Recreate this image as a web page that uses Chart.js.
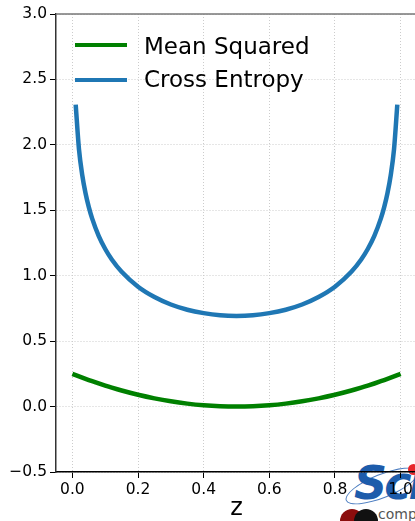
<!DOCTYPE html>
<html>
<head>
<meta charset="utf-8">
<script src="https://cdn.jsdelivr.net/npm/chart.js@4.4.1/dist/chart.umd.min.js"></script>
<style>
  html, body { margin: 0; padding: 0; overflow: hidden; background: #fff; width: 415px; height: 521px; }
  #wrap { position: absolute; left: 0; top: 0; width: 430px; height: 521px; z-index: 2; }
  .leg-line { position: absolute; height: 4px; width: 52px; left: 75px; z-index: 3; }
  .leg-text { position: absolute; left: 144px; font-family: "DejaVu Sans", sans-serif; font-size: 23px; line-height: 28px; color: #000; white-space: nowrap; z-index: 3; }
  #logo-sci { position: absolute; left: 354px; top: 456px; font-family: "DejaVu Sans", sans-serif; font-weight: bold; font-style: italic; font-size: 46px; color: #1d5cab; line-height: 54px; white-space: nowrap; letter-spacing: -3px; z-index: 1; }
  #logo-comp { position: absolute; left: 378px; top: 505px; font-family: "DejaVu Sans", sans-serif; font-size: 14px; color: #555; line-height: 18px; z-index: 1; }
  #swoosh { position: absolute; left: 343px; top: 474px; width: 76px; height: 22px; border: 1.5px solid #4a7cc0; border-radius: 50%; transform: rotate(-22deg); z-index: 1; }
  .dot { position: absolute; border-radius: 50%; z-index: 1; }
</style>
</head>
<body>
<div id="wrap"><canvas id="c" width="430" height="521"></canvas></div>
<div class="leg-line" style="top:43px;background:#008000"></div>
<div class="leg-text" style="top:31.5px">Mean Squared</div>
<div class="leg-line" style="top:78px;background:#1f77b4"></div>
<div class="leg-text" style="top:65px">Cross Entropy</div>
<div class="dot" style="left:340px;top:509px;width:24px;height:24px;background:#8b0d0d"></div>
<div class="dot" style="left:354px;top:509px;width:24px;height:24px;background:#111"></div>
<div id="swoosh"></div>
<div id="logo-sci">Sci</div>
<div class="dot" style="left:408px;top:464px;width:11px;height:11px;background:#e8262b"></div>
<div id="logo-comp">comp</div>
<script>
const zValues = [0, 0.01, 0.02, 0.03, 0.04, 0.05, 0.06, 0.08, 0.10, 0.12, 0.15, 0.20, 0.25, 0.30, 0.35, 0.40, 0.45, 0.50,
                 0.55, 0.60, 0.65, 0.70, 0.75, 0.80, 0.85, 0.88, 0.90, 0.92, 0.94, 0.95, 0.96, 0.97, 0.98, 0.99, 1.0];
const meanSquared = [0.25, 0.2401, 0.2304, 0.2209, 0.2116, 0.2025, 0.1936, 0.1764, 0.16, 0.1444, 0.1225, 0.09, 0.0625, 0.04, 0.0225, 0.01, 0.0025, 0,
                     0.0025, 0.01, 0.0225, 0.04, 0.0625, 0.09, 0.1225, 0.1444, 0.16, 0.1764, 0.1936, 0.2025, 0.2116, 0.2209, 0.2304, 0.2401, 0.25];
const crossEntropy = [null, 2.308, 1.966, 1.769, 1.630, 1.524, 1.438, 1.305, 1.204, 1.124, 1.030, 0.916, 0.837, 0.780, 0.740, 0.714, 0.698, 0.693,
                      0.698, 0.714, 0.740, 0.780, 0.837, 0.916, 1.030, 1.124, 1.204, 1.305, 1.438, 1.524, 1.630, 1.769, 1.966, 2.308, null];
const xTickValues = [0.0, 0.2, 0.4, 0.6, 0.8, 1.0];
const seriesNames = ["Mean Squared", "Cross Entropy"];

const toPts = ys => zValues.map((z, i) => ({x: z, y: ys[i]})).filter(p => p.y !== null);
const fmt = v => Number(v).toFixed(1).replace('-', '\u2212');
const tickFont = {family: "DejaVu Sans", size: 15.5};

const topSpine = {
  id: 'topSpine',
  afterDraw(chart) {
    const {ctx, chartArea} = chart;
    ctx.save();
    ctx.strokeStyle = '#777';
    ctx.lineWidth = 1.5;
    ctx.beginPath();
    ctx.moveTo(chartArea.left, chartArea.top);
    ctx.lineTo(chartArea.right, chartArea.top);
    ctx.stroke();
    ctx.restore();
  }
};

new Chart(document.getElementById('c'), {
  type: 'line',
  data: {
    datasets: [
      {label: seriesNames[0], data: toPts(meanSquared), borderColor: '#008000', borderWidth: 4.5, pointRadius: 0, cubicInterpolationMode: 'monotone', fill: false},
      {label: seriesNames[1], data: toPts(crossEntropy), borderColor: '#1f77b4', borderWidth: 4.5, pointRadius: 0, cubicInterpolationMode: 'monotone', fill: false}
    ]
  },
  options: {
    responsive: false,
    animation: false,
    layout: {padding: {top: 14, right: 13, left: 0, bottom: 0}},
    plugins: {legend: {display: false}, tooltip: {enabled: false}},
    scales: {
      x: {
        type: 'linear', min: -0.05, max: 1.05,
        afterBuildTicks: s => { s.ticks = xTickValues.map(v => ({value: v})); },
        afterFit: s => { s.height = 49; },
        ticks: {callback: v => fmt(v), font: tickFont, color: '#000', padding: 3, maxRotation: 0},
        grid: {color: '#cccccc', lineWidth: 1, tickColor: '#000', tickLength: 6, tickBorderDash: [], tickWidth: 1},
        border: {color: '#000', width: 1.5, dash: [1, 2]},
        title: {display: true, text: 'z', font: {family: "DejaVu Sans", size: 24, lineHeight: 1.0}, color: '#000', padding: {top: 0, bottom: 0}}
      },
      y: {
        min: -0.5, max: 3.0,
        afterFit: s => { s.width = 56; },
        ticks: {stepSize: 0.5, callback: v => fmt(v), font: tickFont, color: '#000', padding: 3},
        grid: {color: '#cccccc', lineWidth: 1, tickColor: '#000', tickLength: 6, tickWidth: 1},
        border: {color: '#333', width: 1.5, dash: [1, 2]}
      }
    }
  },
  plugins: [topSpine]
});
</script>
</body>
</html>
